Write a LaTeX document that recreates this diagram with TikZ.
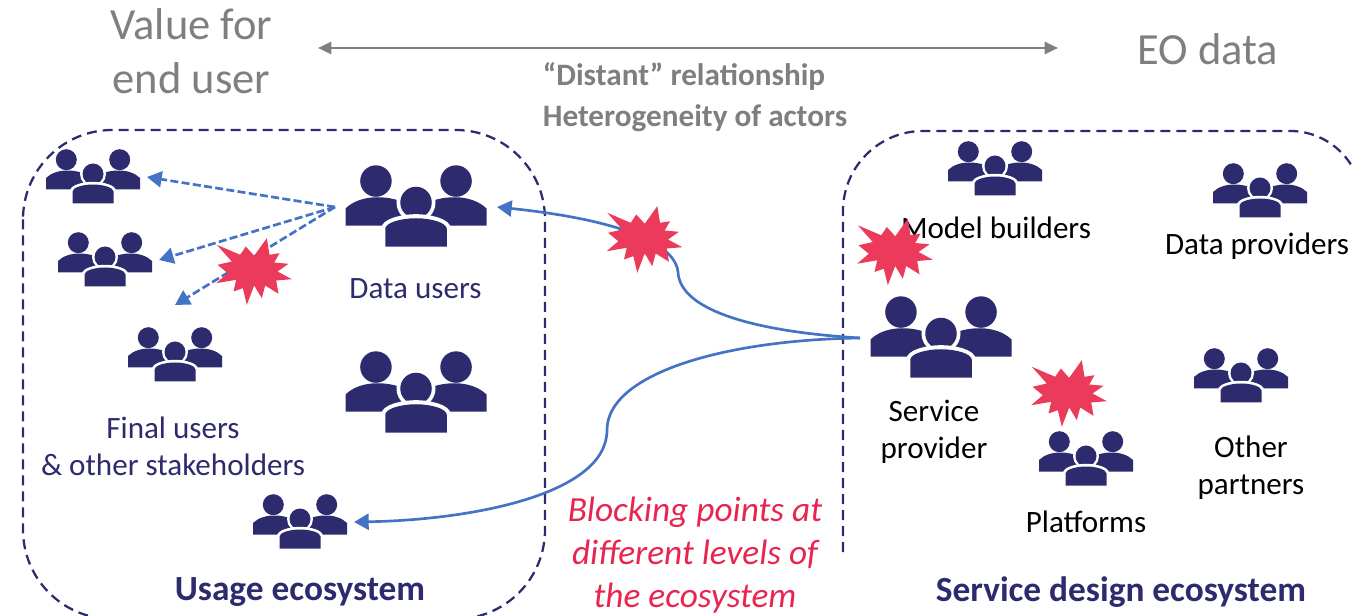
\documentclass[tikz,border=0pt]{standalone}
\usepackage{fontspec}
\setmainfont{Carlito}
\usepackage{xcolor}
\usetikzlibrary{arrows.meta}
\definecolor{EcoNavy}{HTML}{2D2B6E}
\definecolor{LinkBlue}{HTML}{4472C4}
\definecolor{BlockRed}{HTML}{EC3B5A}
\definecolor{BlockText}{HTML}{E8254F}
\definecolor{SoftGray}{HTML}{7F7F7F}

\begin{document}
\begin{tikzpicture}[
    x=0.75pt, y=-0.75pt,
    actor/.style={font=\fontsize{23.3}{27.8}\selectfont, text=black, align=center, inner sep=0pt},
    useractor/.style={actor, text=EcoNavy},
    bigtitle/.style={font=\fontsize{33.4}{40.5}\selectfont, text=SoftGray, align=center, inner sep=0pt},
    gaptext/.style={font=\fontsize{23.4}{31}\selectfont\bfseries, text=SoftGray, align=left, inner sep=0pt},
    ecotitle/.style={font=\fontsize{26.5}{30}\selectfont\bfseries, text=EcoNavy, inner sep=0pt},
    ecobox/.style={draw=EcoNavy, line width=1.7pt, dash pattern=on 7.5pt off 4.5pt},
    link/.style={draw=LinkBlue, line width=2pt, -{Triangle[length=11pt,width=12pt]}},
    dashlink/.style={link, dash pattern=on 6pt off 2.5pt},
    people/.pic={
      \fill[EcoNavy] (-26.7,-17.3) circle[radius=10.5];
      \fill[EcoNavy] (26.7,-17.3) circle[radius=10.5];
      \fill[EcoNavy] (-47,12.5) -- (-47,1) .. controls (-42,-4) and (-34,-6.5) .. (-26,-6.5)
        .. controls (-18,-6.5) and (-12,-5) .. (-6,-2) -- (-6,12.5) -- cycle;
      \fill[EcoNavy] (47,12.5) -- (47,1) .. controls (42,-4) and (34,-6.5) .. (26,-6.5)
        .. controls (18,-6.5) and (12,-5) .. (6,-2) -- (6,12.5) -- cycle;
      \fill[white] (0,-3) circle[radius=13];
      \fill[EcoNavy] (0,-3) circle[radius=10.5];
      \fill[white] (-23,27) -- (-23,14) .. controls (-23,8) and (-10,4.8) .. (0,4.8)
        .. controls (10,4.8) and (23,8) .. (23,14) -- (23,27) -- cycle;
      \fill[EcoNavy] (-20.5,26.5) -- (-20.5,14.5) .. controls (-20.5,10.5) and (-10,7.5) .. (0,7.5)
        .. controls (10,7.5) and (20.5,10.5) .. (20.5,14.5) -- (20.5,26.5) -- cycle;
      \coordinate (-east) at (54,0);
      \coordinate (-west) at (-54,0);
      \coordinate (-north) at (0,-50);
    },
    blockstar/.pic={
      \fill[BlockRed] (-36.7,-26.7) -- (-13.3,-16.7) -- (-7.7,-25) -- (0.7,-15.7) -- (13.3,-33.3)
        -- (16,-16.7) -- (26,-18.3) -- (20.7,-9) -- (35,-7.7) -- (24,0) -- (38.3,7.7) -- (22.7,9)
        -- (25,22.3) -- (11.7,14) -- (8.3,26.7) -- (0.7,14) -- (-6.7,33.3) -- (-10.7,16.7)
        -- (-20,20) -- (-17.3,8.3) -- (-37.3,11.7) -- (-25.7,1.7) -- (-36,-6.7) -- (-21.7,-10) -- cycle;
    }
  ]
    \clip (0,0) rectangle (1353,616);

    % ecosystems
    \draw[ecobox, rounded corners=67pt] (23,130) rectangle (545,619);
    \draw[ecobox] (843,552) -- (843,211) arc[start angle=180, end angle=270, radius=80]
      -- (1290,131) arc[start angle=270, end angle=360, radius=72];

    % actors
    \pic (finalA) at (93,177) {people};
    \pic (finalB) at (105,260) {people};
    \pic (finalC) at (175,355) {people};
    \pic (finalD) at (300,522) {people};
    \pic[scale=1.5] (datausers) at (416,207) {people};
    \pic[scale=1.5] (datausersB) at (416,393) {people};
    \pic[scale=1.5] (provider) at (941,338) {people};
    \pic (builders) at (995,169) {people};
    \pic (dataprov) at (1260,191) {people};
    \pic (partners) at (1241,376) {people};
    \pic (platforms) at (1086,459) {people};

    \node[bigtitle] (value) at (191.5,51) {Value for\\end user};
    \node[bigtitle] (eodata) at (1208,49) {EO data};
    \node[gaptext] (gap) at (695,97) {“Distant” relationship\\Heterogeneity of actors};

    \node[useractor] (dulabel) at (415.5,288.5) {Data users};
    \node[useractor] (finallabel) at (173,446.5) {Final users\\\& other stakeholders};
    \node[actor] (bllabel) at (996,228) {Model builders};
    \node[actor] (dplabel) at (1257,246) {Data providers};
    \node[actor] (splabel) at (934,432) {Service\\provider};
    \node[actor] (pflabel) at (1086,522) {Platforms};
    \node[actor] (oplabel) at (1251,468) {Other\\partners};
    \node[ecotitle] (usage) at (300,592) {Usage ecosystem};
    \node[ecotitle] (design) at (1121,592) {Service design ecosystem};
    \node[font=\fontsize{26.5}{32}\selectfont\itshape, text=BlockText, align=center, inner sep=0pt] (blocking) at (695,555)
      {Blocking points at\\different levels of\\the ecosystem};

    % links
    \coordinate (gapL) at (318,48);
    \coordinate (gapR) at (1058,48);
    \draw[draw=SoftGray, line width=2pt, {Triangle[length=10pt,width=9pt]}-{Triangle[length=10pt,width=9pt]}] (gapL) -- (gapR);

    \draw[dashlink] (datausers-west) -- (finalA-east);
    \draw[dashlink] (datausers-west) -- (finalB-east);
    \draw[dashlink] (datausers-west) -- (finalC-north);

    \draw[link] (provider-west) .. controls (760,332) and (680,312) .. (678,272)
      .. controls (676,250) and (640,222) .. (datausers-east);
    \draw[link] (provider-west) .. controls (720,340) and (607,375) .. (607,430)
      .. controls (607,495) and (470,520) .. (finalD-east);

    % blocking points
    \pic at (253.5,271.5) {blockstar};
    \pic at (644,239.5) {blockstar};
    \pic at (894.5,252) {blockstar};
    \pic at (1068.5,393.5) {blockstar};
  \end{tikzpicture}
\end{document}
